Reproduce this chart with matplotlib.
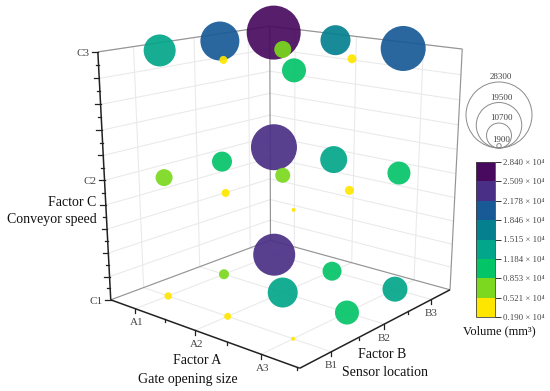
import numpy as np
import matplotlib
matplotlib.use("Agg")
import matplotlib.pyplot as plt
from matplotlib.colors import ListedColormap, BoundaryNorm
from matplotlib.cm import ScalarMappable

plt.rcParams['font.family'] = ['Liberation Serif', 'DejaVu Sans']

factor_a = [1, 2, 3]
factor_b = [1, 2, 3]
factor_c = [1, 2, 3]
# volume[C][A][B]
volume_c1 = [[3200, 5600, 22500], [3000, 14000, 9000], [1900, 11200, 12200]]
volume_c2 = [[7000, 9500, 23500], [3500, 6500, 13000], [1900, 4000, 10800]]
volume_c3 = [[15000, 19000, 26500], [3500, 7000, 17000], [11200, 4000, 21500]]
band_edges = [1900, 5210, 8530, 11840, 15150, 18460, 21780, 25090, 28400]
band_labels = ['0.190', '0.521', '0.853', '1.184', '1.515', '1.846', '2.178', '2.509', '2.840']
band_colors = ['#ffe600', '#7cd81e', '#04c468', '#02a68a', '#04808f',
               '#175a96', '#4a2f86', '#480a5e']
legend_sizes = [28300, 19500, 10700, 1900]

A_RANGE = (0.56, 3.54)
B_RANGE = (0.46, 3.43)
C_RANGE = (1.0, 3.0)

# Camera fitted from the frame anchors of the box
a0, a1 = A_RANGE
b0, b1 = B_RANGE
anchors = [
    (a0, b0, 1, 109, 297), (a1, b0, 1, 300, 368), (a1, b1, 1, 450, 288), (a0, b1, 1, 272, 243),
    (a0, b0, 3, 98, 52), (a0, b1, 3, 270, 28), (a1, b1, 3, 462, 47), (a0, b0, 2, 103, 178),
    (1, b0, 1, 136, 308), (2, b0, 1, 197, 331), (3, b0, 1, 264, 356),
    (a1, 1, 1, 329, 353), (a1, 2, 1, 383, 325), (a1, 3, 1, 430, 299),
    (1, 1, 1, 167, 296), (3, 3, 1, 396, 289), (1, 3, 3, 273, 31), (3, 1, 3, 295, 72),
    (3, 3, 3, 403, 48), (1, 1, 3, 160, 52), (2, 2, 2, 283, 175), (3, 1, 2, 294, 211),
]
M, rhs = [], []
for x, y, z, u, v in anchors:
    M.append([x, y, z, 1, 0, 0, 0, 0, -u * x, -u * y, -u * z])
    M.append([0, 0, 0, 0, x, y, z, 1, -v * x, -v * y, -v * z])
    rhs += [u, v]
h = np.linalg.lstsq(np.array(M, float), np.array(rhs, float), rcond=None)[0]
P = np.append(h, 1).reshape(3, 4)


def proj(x, y, z):
    q = P @ np.array([x, y, z, 1.0])
    return q[0] / q[2], q[1] / q[2]


fig = plt.figure(figsize=(5.5, 3.91), dpi=100)
ax = fig.add_axes([0, 0, 1, 1])
ax.set_xlim(0, 550)
ax.set_ylim(391, 0)
ax.axis('off')


def seg(p, q, **kw):
    u0, v0 = proj(*p)
    u1, v1 = proj(*q)
    ax.plot([u0, u1], [v0, v1], solid_capstyle='butt', **kw)


GRID = dict(color='#e9e9e9', lw=0.75, zorder=1)
EDGE = dict(color='#949494', lw=0.85, zorder=2)
AXIS = dict(color='#222222', lw=1.1, zorder=6)
TICK = dict(color='#222222', lw=0.9, zorder=6)

c_major = np.arange(1.0, 3.01, 0.2)
c_minor = np.arange(1.1, 3.0, 0.2)
for c in c_major[1:]:
    seg((a0, b0, c), (a0, b1, c), **GRID)
    seg((a0, b1, c), (a1, b1, c), **GRID)
for a in factor_a:
    seg((a, b0, 1), (a, b1, 1), **GRID)
    seg((a, b1, 1), (a, b1, 3), **GRID)
for b in factor_b:
    seg((a0, b, 1), (a1, b, 1), **GRID)
    seg((a0, b, 1), (a0, b, 3), **GRID)

seg((a0, b0, 1), (a0, b1, 1), **EDGE)
seg((a0, b1, 1), (a1, b1, 1), **EDGE)
seg((a0, b1, 1), (a0, b1, 3), **EDGE)
seg((a0, b0, 3), (a0, b1, 3), **EDGE)
seg((a0, b1, 3), (a1, b1, 3), **EDGE)
seg((a1, b1, 1), (a1, b1, 3), **EDGE)

cmap = ListedColormap(band_colors)
norm = BoundaryNorm(band_edges, cmap.N)

# Bubble diameter in pixels for a given volume
vol_knots = [1900, 3000, 3500, 4000, 5600, 6500, 7000, 9000, 9500, 10800, 11200, 12200,
             13000, 14000, 15000, 17000, 19000, 21500, 22500, 23500, 26500]
dia_knots = [4, 7, 8, 9, 10, 15, 17, 19, 20, 23, 24, 25, 27, 30, 32, 30, 39, 45, 42, 46, 54]

levels = [volume_c1, volume_c2, volume_c3]
rows = []
for ci, c in enumerate(factor_c):
    for ai, a in enumerate(factor_a):
        for bi, b in enumerate(factor_b):
            rows.append((a, b, c, levels[ci][ai][bi]))
# back to front: far column first
rows.sort(key=lambda r: (r[2], r[0] - r[1]))
xy = np.array([proj(r[0], r[1], r[2]) for r in rows])
vol = np.array([r[3] for r in rows], float)
dia = np.interp(vol, vol_knots, dia_knots)
ax.scatter(xy[:, 0], xy[:, 1], s=(dia * 0.72) ** 2, c=vol, cmap=cmap, norm=norm,
           alpha=0.92, linewidths=0, zorder=4)

# Axis lines and ticks
seg((a0, b0, 1), (a1, b0, 1), **AXIS)
seg((a1, b0, 1), (a1, b1, 1), **AXIS)
seg((a0, b0, 1), (a0, b0, 3), **AXIS)

TXT = dict(family=['Liberation Serif'], color='#444444', fontsize=8, ha='center', va='center', zorder=7)
LAB = dict(family=['Liberation Serif'], color='#111111', fontsize=10, ha='center', va='center', zorder=7)

for a in np.arange(1, 3.51, 0.5):
    u, v = proj(a, b0, 1)
    major = float(a).is_integer()
    ax.plot([u, u], [v, v + (4.5 if major else 2.5)], **TICK)
    if major:
        ax.text(u + 1, v + 14, f'A{int(a)}', **TXT)
for b in np.arange(1, 3.41, 0.5):
    u, v = proj(a1, b, 1)
    major = float(b).is_integer()
    ax.plot([u, u], [v, v + (4.5 if major else 2.5)], **TICK)
    if major:
        ax.text(u, v + 14, f'B{int(b)}', **TXT)
for c in c_major:
    u, v = proj(a0, b0, c)
    ax.plot([u - 5.5, u], [v, v], **TICK)
for c in c_minor:
    u, v = proj(a0, b0, c)
    ax.plot([u - 3, u], [v, v], **TICK)
for c in factor_c:
    u, v = proj(a0, b0, c)
    ax.text(u - 15, v + 1.5, f'C{c}', **TXT)

ax.text(72, 202, 'Factor C', **LAB)
ax.text(52, 219, 'Conveyor speed', **LAB)
ax.text(197, 361, 'Factor A', **LAB)
ax.text(188, 379, 'Gate opening size', **LAB)
ax.text(382, 355, 'Factor B', **LAB)
ax.text(385, 373, 'Sensor location', **LAB)

# Size legend
LEG_X, LEG_BASE, LEG_K = 499, 148, 66 / 28300
for s in legend_sizes:
    d = s * LEG_K
    ax.add_patch(plt.Circle((LEG_X, LEG_BASE - d / 2), d / 2, fill=False,
                            ec='#8a8a8a', lw=0.7, zorder=3))
    ax.text(LEG_X + 2, LEG_BASE - d - 5 if s > 2000 else LEG_BASE - 8, f'{s}',
            family=['Liberation Serif'], color='#444444', fontsize=6.5,
            ha='center', va='center')

# Colour bar
cax = fig.add_axes([476 / 550, 1 - 317 / 391, 19 / 550, 155 / 391])
sm = ScalarMappable(norm=norm, cmap=cmap)
cb = fig.colorbar(sm, cax=cax, spacing='uniform', ticks=band_edges, drawedges=False)
cb.set_ticklabels([f'{t} \u00d7 10\u2074' for t in band_labels])
cb.ax.tick_params(length=4, width=0.7, pad=1.5, labelsize=6.3, labelcolor='#444444', color='#333333')
cb.outline.set_linewidth(0.6)
cb.outline.set_edgecolor('#444444')
ax.text(499, 331, 'Volume (mm\u00b3)', family=['Liberation Serif'], color='#111111',
        fontsize=9, ha='center', va='center')

fig.savefig('out.png', dpi=100)
